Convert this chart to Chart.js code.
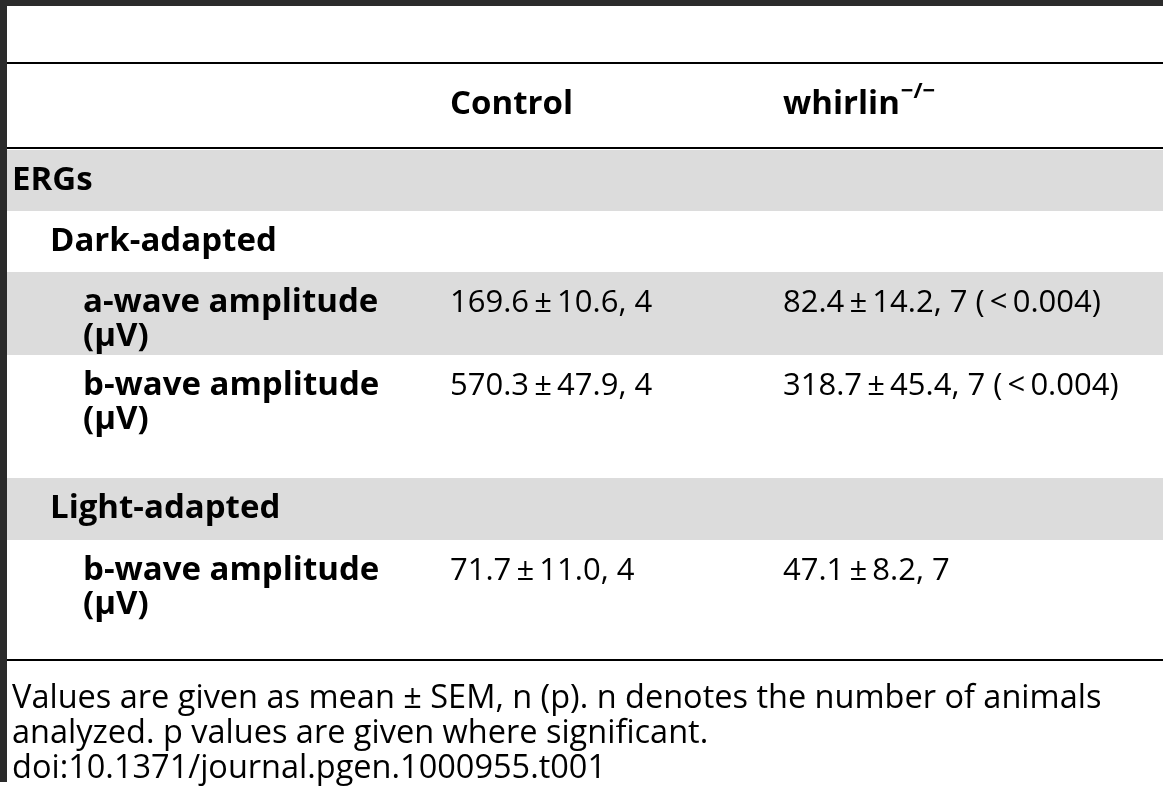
<!DOCTYPE html>
<html><head><meta charset="utf-8">
<script src="https://cdn.jsdelivr.net/npm/chart.js@4"></script>
<style>html,body{margin:0;padding:0;background:#fff}#c{display:block}</style>
</head><body>
<div style="width:1163px;height:800px"><canvas id="c"></canvas></div>
<script>
const columns = ["", "Control", "whirlin"];
const rowLabels = [["ERGs"],["Dark-adapted"],["a-wave amplitude","(\u03bcV)"],["b-wave amplitude","(\u03bcV)"],["Light-adapted"],["b-wave amplitude","(\u03bcV)"]];
const rowIndent = [0,1,2,2,1,2];
const rowShaded = [true,false,true,false,true,false];
const controlValues = ["","","169.6\u2009\u00b1\u200910.6, 4","570.3\u2009\u00b1\u200947.9, 4","","71.7\u2009\u00b1\u200911.0, 4"];
const whirlinValues = ["","","82.4\u2009\u00b1\u200914.2, 7 (\u2009<\u20090.004)","318.7\u2009\u00b1\u200945.4, 7 (\u2009<\u20090.004)","","47.1\u2009\u00b1\u20098.2, 7"];
const footnote = ["Values are given as mean \u00b1 SEM, n (p). n denotes the number of animals","analyzed. p values are given where significant.","doi:10.1371/journal.pgen.1000955.t001"];

const rowTops = [150,211,272,355,478,540,660];
const tablePlugin = {
  id:'table',
  afterDraw(chart){
    const ctx = chart.ctx;
    ctx.save();
    ctx.fillStyle='#2b2b2b';
    ctx.fillRect(0,0,1163,6);
    ctx.fillRect(0,0,7,782);
    ctx.fillStyle='#000';
    ctx.fillRect(7,62,1156,2);
    ctx.fillRect(7,147,1156,2);
    for(let i=0;i<rowLabels.length;i++){
      if(rowShaded[i]){ctx.fillStyle='#dcdcdc';ctx.fillRect(7,rowTops[i],1156,rowTops[i+1]-rowTops[i]);}
    }
    ctx.fillStyle='#000';
    ctx.fillRect(7,659,1156,2);
    ctx.textBaseline='middle';
    ctx.font='bold 33px "Open Sans"';
    ctx.fillText(columns[1],450,105);
    ctx.fillText(columns[2],783,105);
    const w=ctx.measureText(columns[2]).width;
    ctx.font='bold 22px "Open Sans"';
    ctx.fillText('\u2212/\u2212',783+w+1,92);
    const xs=[12,50,83];
    for(let i=0;i<rowLabels.length;i++){
      const y0 = rowLabels[i].length>1 ? rowTops[i]+31 : (rowTops[i]+rowTops[i+1])/2;
      ctx.font='bold 33px "Open Sans"';
      rowLabels[i].forEach((t,k)=>ctx.fillText(t,xs[rowIndent[i]],y0+k*34));
      ctx.font='31px "Open Sans"';
      ctx.fillText(controlValues[i],450,y0);
      ctx.fillText(whirlinValues[i],783,y0);
    }
    ctx.font='32.5px "Open Sans"';
    footnote.forEach((t,k)=>ctx.fillText(t,12,699+k*35));
    ctx.restore();
  }
};
new Chart(document.getElementById('c'),{
  type:'scatter',
  data:{datasets:[{data:[]}]},
  options:{responsive:true,maintainAspectRatio:false,animation:false,
    plugins:{legend:{display:false},tooltip:{enabled:false}},
    scales:{x:{display:false},y:{display:false}}},
  plugins:[tablePlugin]
});
</script>
</body></html>
